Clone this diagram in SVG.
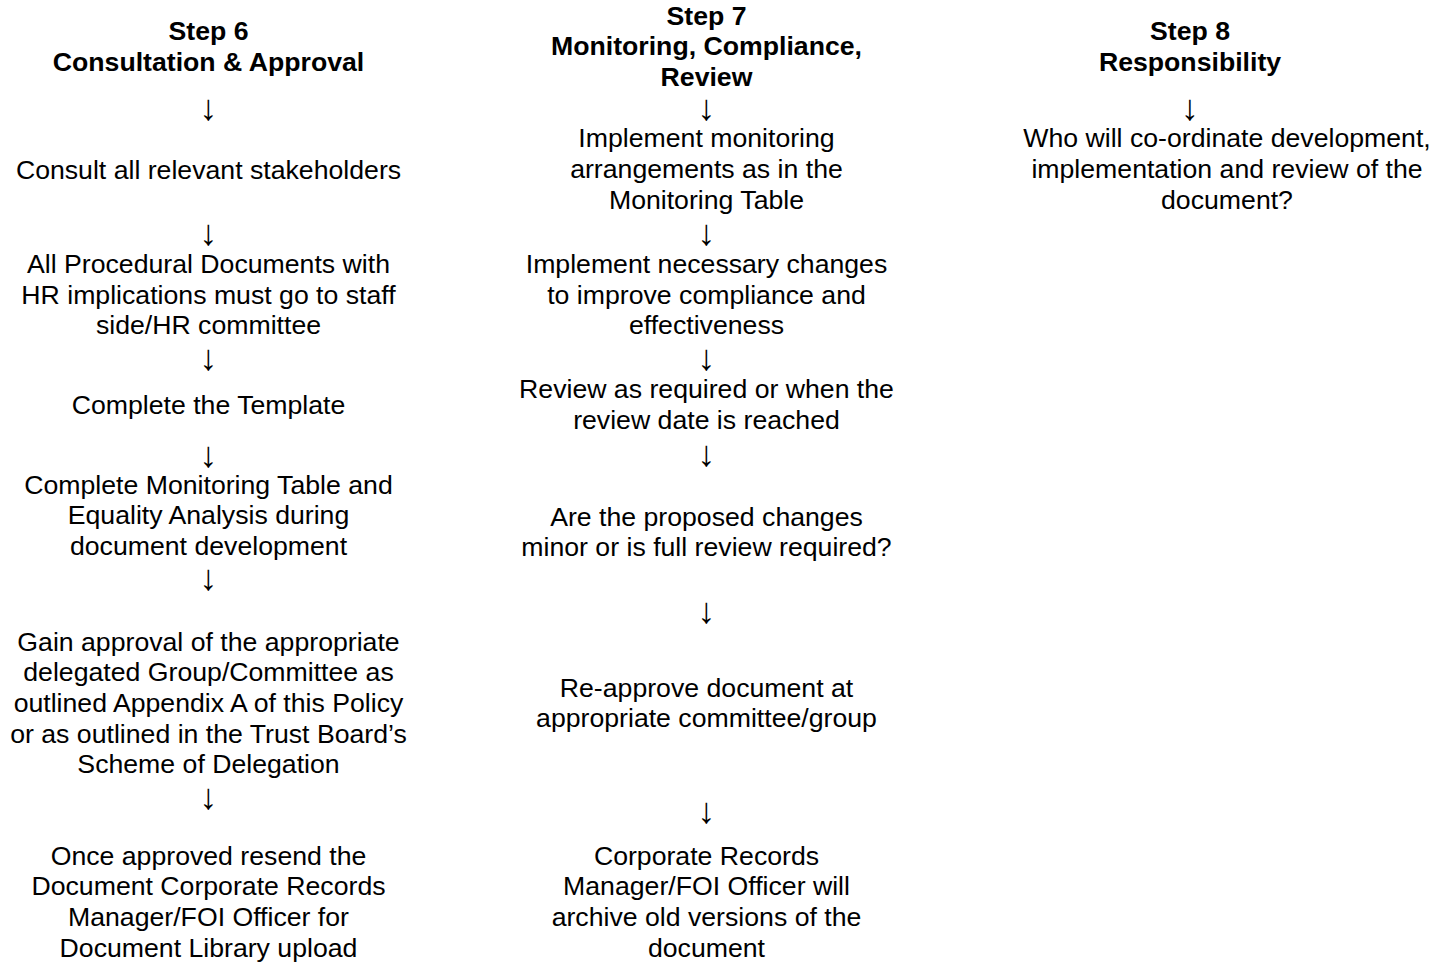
<svg xmlns="http://www.w3.org/2000/svg" width="1431" height="962" viewBox="0 0 1431 962">
<style>
text{font-family:"Liberation Sans",Arial,sans-serif;font-size:26.67px;fill:#000;text-anchor:middle}
.h{font-weight:bold}
.a{font-size:36px}
</style>
<rect width="1431" height="962" fill="#fff"/>
<g id="col6">
<g id="step6-title"><text class="h" x="208.5" y="40">Step 6</text><text class="h" x="208.5" y="70.7">Consultation &amp; Approval</text></g>
<g id="n6-1"><text x="208.5" y="178.8">Consult all relevant stakeholders</text></g>
<g id="n6-2"><text x="208.5" y="273">All Procedural Documents with</text><text x="208.5" y="303.7">HR implications must go to staff</text><text x="208.5" y="334.3">side/HR committee</text></g>
<g id="n6-3"><text x="208.5" y="413.5">Complete the Template</text></g>
<g id="n6-4"><text x="208.5" y="493.7">Complete Monitoring Table and</text><text x="208.5" y="524.3">Equality Analysis during</text><text x="208.5" y="555">document development</text></g>
<g id="n6-5"><text x="208.5" y="650.5">Gain approval of the appropriate</text><text x="208.5" y="681.2">delegated Group/Committee as</text><text x="208.5" y="711.9">outlined Appendix A of this Policy</text><text x="208.5" y="742.6">or as outlined in the Trust Board’s</text><text x="208.5" y="773.3">Scheme of Delegation</text></g>
<g id="n6-6"><text x="208.5" y="864.5">Once approved resend the</text><text x="208.5" y="895.2">Document Corporate Records</text><text x="208.5" y="925.9">Manager/FOI Officer for</text><text x="208.5" y="956.6">Document Library upload</text></g>
</g>
<g id="col7">
<g id="step7-title"><text class="h" x="706.5" y="24.5">Step 7</text><text class="h" x="706.5" y="55.2">Monitoring, Compliance,</text><text class="h" x="706.5" y="85.9">Review</text></g>
<g id="n7-1"><text x="706.5" y="147.3">Implement monitoring</text><text x="706.5" y="178">arrangements as in the</text><text x="706.5" y="208.7">Monitoring Table</text></g>
<g id="n7-2"><text x="706.5" y="273">Implement necessary changes</text><text x="706.5" y="303.7">to improve compliance and</text><text x="706.5" y="334.3">effectiveness</text></g>
<g id="n7-3"><text x="706.5" y="398">Review as required or when the</text><text x="706.5" y="428.7">review date is reached</text></g>
<g id="n7-4"><text x="706.5" y="525.5">Are the proposed changes</text><text x="706.5" y="556.2">minor or is full review required?</text></g>
<g id="n7-5"><text x="706.5" y="696.5">Re-approve document at</text><text x="706.5" y="727.2">appropriate committee/group</text></g>
<g id="n7-6"><text x="706.5" y="864.5">Corporate Records</text><text x="706.5" y="895.2">Manager/FOI Officer will</text><text x="706.5" y="925.9">archive old versions of the</text><text x="706.5" y="956.6">document</text></g>
</g>
<g id="col8">
<g id="step8-title"><text class="h" x="1190" y="40">Step 8</text><text class="h" x="1190" y="70.7">Responsibility</text></g>
<g id="n8-1"><text x="1227" y="147.3">Who will co-ordinate development,</text><text x="1227" y="178">implementation and review of the</text><text x="1227" y="208.7">document?</text></g>
</g>
<g id="connectors">
<text class="a" x="208.5" y="120">↓</text>
<text class="a" x="208.5" y="245">↓</text>
<text class="a" x="208.5" y="369.5">↓</text>
<text class="a" x="208.5" y="466.5">↓</text>
<text class="a" x="208.5" y="589.5">↓</text>
<text class="a" x="208.5" y="808.5">↓</text>
<text class="a" x="706.5" y="119.5">↓</text>
<text class="a" x="706.5" y="244.5">↓</text>
<text class="a" x="706.5" y="369.5">↓</text>
<text class="a" x="706.5" y="465.5">↓</text>
<text class="a" x="706.5" y="623">↓</text>
<text class="a" x="706.5" y="823">↓</text>
<text class="a" x="1190" y="120">↓</text>
</g>
</svg>
